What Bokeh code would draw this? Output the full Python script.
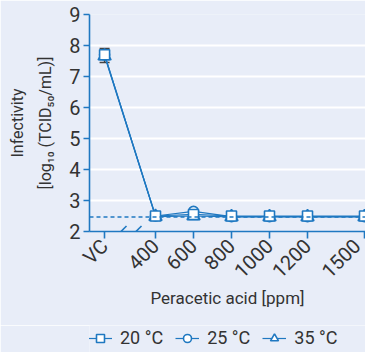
import math
from bokeh.plotting import figure
from bokeh.layouts import column
from bokeh.models import (Range1d, FixedTicker, Span, Legend, LegendItem,
                          Arrow, ColumnDataSource, Whisker, TeeHead)
from bokeh.embed import file_html
from bokeh.resources import INLINE

# ---- data ----
conc_labels = ["VC", "400", "600", "800", "1000", "1200", "1500"]
conc_ppm = [132, 400, 600, 800, 1000, 1200, 1500]   # VC drawn left of the axis break
t20 = [7.70, 2.50, 2.55, 2.50, 2.50, 2.50, 2.50]
t25 = [7.70, 2.50, 2.65, 2.48, 2.48, 2.48, 2.48]
t35 = [7.66, 2.48, 2.50, 2.47, 2.47, 2.47, 2.47]
err20_upper = [7.90]
err20_lower = [7.45]
detection_limit = 2.47
y_ticks = [2, 3, 4, 5, 6, 7, 8, 9]
series_labels = ["20 °C", "25 °C", "35 °C"]

BG = "#e8edf8"
BLUE = "#1f78c1"
TXT = "#333333"
FONT = "Roboto"

LEFT, TOP, BOTTOM = 89, 14, 94
FW, FH = 276, 217
LEG_H = 27
X0, X1 = 52.6, 1505.2
Y0, Y1 = 2, 9

p = figure(frame_width=FW, frame_height=FH,
           x_range=Range1d(X0, X1), y_range=Range1d(Y0, Y1),
           output_backend="svg", toolbar_location=None,
           min_border_left=LEFT, min_border_right=0, min_border_top=TOP,
           min_border_bottom=BOTTOM,
           background_fill_color=BG, border_fill_color=BG, outline_line_color=None)

# axes
p.xgrid.visible = False
p.ygrid.grid_line_color = "white"
p.ygrid.grid_line_width = 2
p.ygrid.ticker = FixedTicker(ticks=y_ticks)

p.yaxis.ticker = FixedTicker(ticks=y_ticks)
p.xaxis.ticker = FixedTicker(ticks=conc_ppm)
p.xaxis.major_label_overrides = {x: l for x, l in zip(conc_ppm, conc_labels)}
p.xaxis.major_label_orientation = math.pi / 4
for ax in (p.xaxis, p.yaxis):
    ax.axis_line_color = BLUE
    ax.axis_line_width = 1.6
    ax.major_tick_line_color = BLUE
    ax.major_tick_line_width = 1.6
    ax.major_tick_in = 0
    ax.minor_tick_line_color = None
    ax.major_label_text_font = FONT
    ax.major_label_text_color = TXT
    ax.major_label_text_font_size = "20px"
    ax.axis_label_text_font = FONT
    ax.axis_label_text_color = TXT
    ax.axis_label_text_font_style = "normal"
p.xaxis.major_tick_out = 7
p.yaxis.major_tick_out = 6
p.xaxis.major_label_standoff = 4
p.yaxis.major_label_standoff = 3

p.yaxis.axis_label = "Infectivity\n[log₁₀ (TCID₅₀/mL)]"
p.yaxis.axis_label_text_font_size = "16px"
p.yaxis.axis_label_text_line_height = 1.5
p.yaxis.axis_label_standoff = 11
p.xaxis.axis_label = "Peracetic acid [ppm]"
p.xaxis.axis_label_text_font_size = "17px"
p.xaxis.axis_label_standoff = -6

# detection limit
p.add_layout(Span(location=detection_limit, dimension="width", line_color=BLUE,
                  line_width=1.5, line_dash="4 3"))

# axis break marks
dx = 11 * (X1 - X0) / FW / 2
dy = 11 * (Y1 - Y0) / FH / 2
def px2x(px):
    return X0 + (px - LEFT) * (X1 - X0) / FW
for cx in (px2x(120.5), px2x(135.5)):
    p.add_layout(Arrow(end=None, start=None, x_start=cx - dx, y_start=Y0 - dy,
                       x_end=cx + dx, y_end=Y0 + dy, line_color=BLUE, line_width=1.6))

# series
src = ColumnDataSource(dict(x=conc_ppm, t20=t20, t25=t25, t35=t35))
specs = [("t35", "triangle", 13, series_labels[2]),
         ("t25", "circle", 10, series_labels[1]),
         ("t20", "square", 10, series_labels[0])]
style = {}
for col, marker, size, lab in specs:
    p.line("x", col, source=src, line_color=BLUE, line_width=1.2)
    p.scatter("x", col, source=src, marker=marker, size=size,
              fill_color="white", line_color=BLUE, line_width=1.6)
    style[lab] = (marker, size)

# error bar at VC
esrc = ColumnDataSource(dict(x=[conc_ppm[0]], lo=err20_lower, hi=err20_upper))
p.add_layout(Whisker(base="x", lower="lo", upper="hi", source=esrc, dimension="height",
                     line_color="#444444", line_width=1.5,
                     upper_head=TeeHead(size=10, line_color="#444444", line_width=1.5),
                     lower_head=TeeHead(size=10, line_color="#444444", line_width=1.5)))

# legend strip below the chart (its own small figure, so the legend is not clipped)
W_TOTAL = LEFT + FW
pl = figure(width=W_TOTAL, height=LEG_H, x_range=Range1d(0, 1), y_range=Range1d(0, 1),
            x_axis_type=None, y_axis_type=None, output_backend="svg",
            toolbar_location=None, min_border=0, outline_line_color=None,
            background_fill_color=BG, border_fill_color=BG)
pl.xgrid.visible = False
pl.ygrid.visible = False
lsrc = ColumnDataSource(dict(x=[-5.0], y=[-5.0]))
items = []
for lab in series_labels:
    marker, size = style[lab]
    ln = pl.line("x", "y", source=lsrc, line_color=BLUE, line_width=1.2)
    sc = pl.scatter("x", "y", source=lsrc, marker=marker, size=size,
                    fill_color="white", line_color=BLUE, line_width=1.6)
    items.append(LegendItem(label=lab, renderers=[ln, sc]))
# the column aligns this strip's frame with the chart frame (left edge at 89 px)
legend = Legend(items=items, orientation="horizontal", location=(-1, LEG_H - 20 - 3),
                glyph_width=24, glyph_height=20, label_standoff=8, spacing=12,
                padding=0, margin=0, border_line_color=None, background_fill_alpha=0,
                label_text_font=FONT, label_text_font_size="18px", label_text_color=TXT,
                label_height=20)
pl.add_layout(legend, "center")

layout = column(p, pl, spacing=0)
open("out.html", "w").write(file_html(layout, INLINE))
